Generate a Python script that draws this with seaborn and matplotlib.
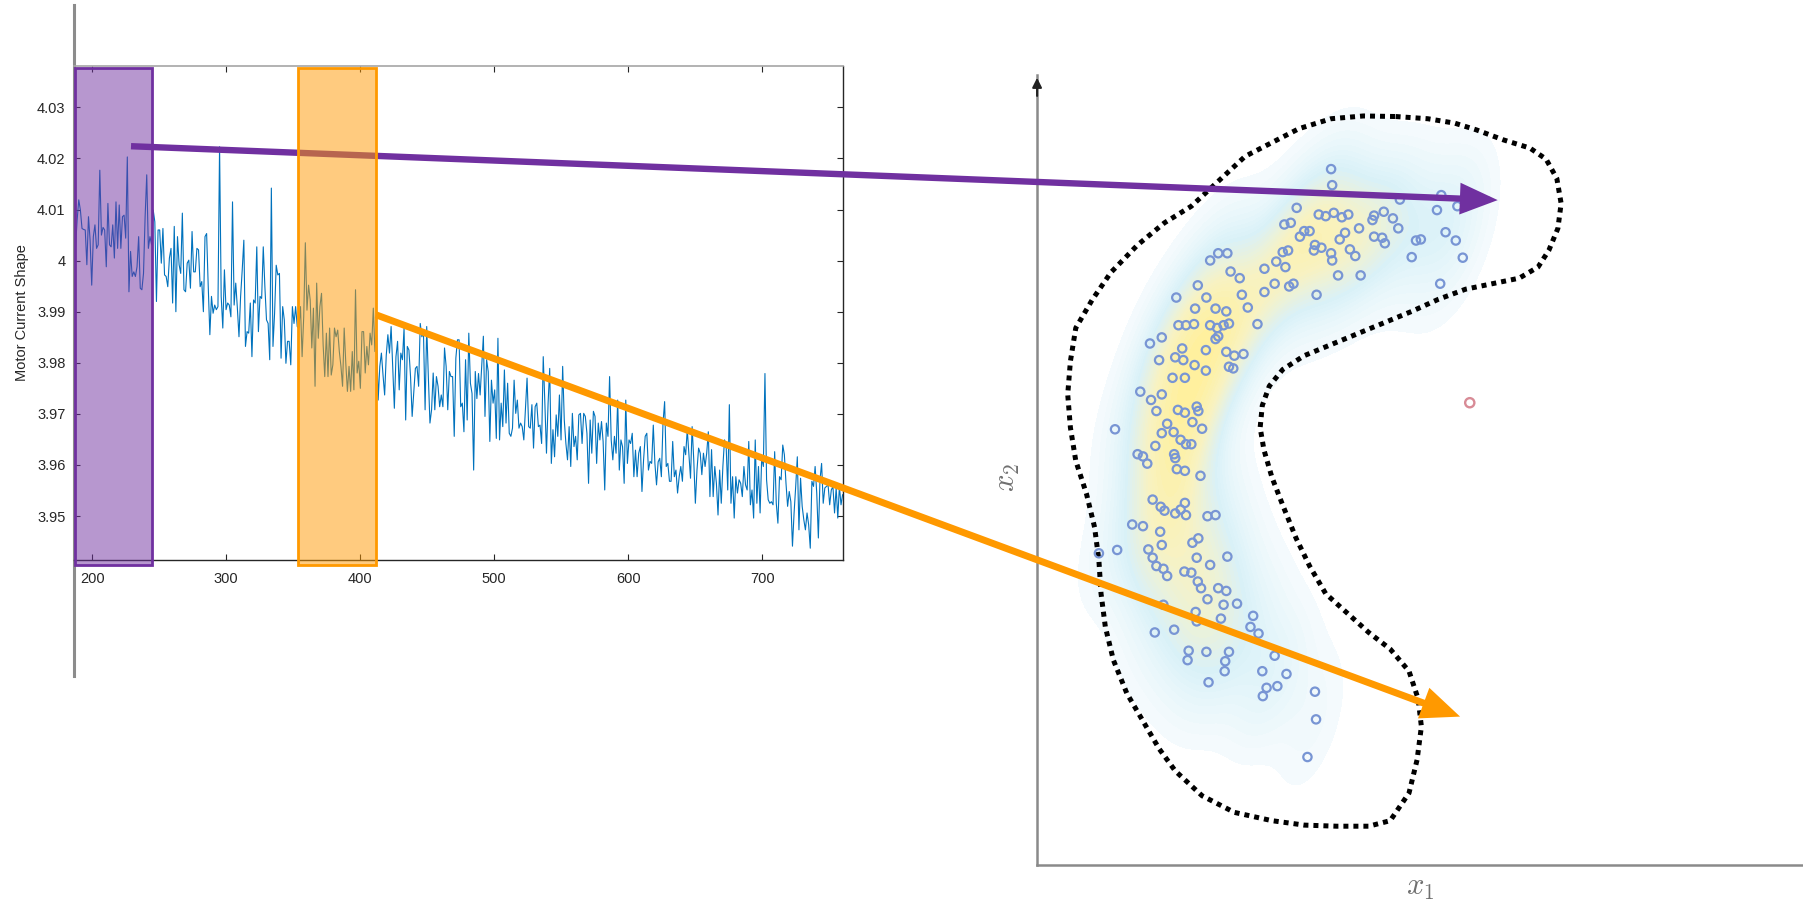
import numpy as np
import matplotlib
matplotlib.use('Agg')
import matplotlib.pyplot as plt
from matplotlib.colors import LinearSegmentedColormap, to_rgba
from matplotlib.patches import Rectangle, ConnectionPatch, ArrowStyle
import seaborn as sns

sns.set_theme(style='white')
plt.rcParams['font.family'] = ['Liberation Sans', 'DejaVu Sans']
plt.rcParams['mathtext.fontset'] = 'cm'

# ---- left panel: motor current signal ----
current = [
    4.0027, 4.0080, 4.0119, 4.0099, 4.0063, 4.0061, 4.0060, 3.9992, 4.0086, 4.0040,
    3.9952, 4.0047, 4.0070, 4.0024, 4.0031, 4.0177, 4.0050, 4.0065, 4.0060, 3.9988,
    4.0112, 4.0031, 4.0027, 4.0070, 4.0005, 4.0115, 4.0024, 4.0109, 4.0024, 4.0086,
    4.0089, 4.0044, 4.0203, 3.9939, 4.0018, 3.9969, 3.9978, 3.9969, 3.9988, 4.0047,
    3.9946, 3.9943, 3.9975, 4.0086, 4.0168, 4.0024, 4.0047, 4.0031, 4.0099, 4.0076,
    3.9920, 4.0060, 4.0060, 3.9995, 4.0063, 3.9972, 3.9969, 3.9949, 4.0005, 4.0024,
    3.9917, 4.0067, 3.9900, 4.0047, 3.9992, 3.9975, 4.0093, 3.9943, 3.9939, 3.9995,
    4.0001, 3.9946, 4.0057, 3.9978, 3.9978, 4.0024, 4.0021, 3.9949, 3.9959, 3.9900,
    4.0047, 4.0053, 3.9949, 3.9855, 3.9930, 3.9897, 3.9913, 3.9904, 3.9910, 4.0223,
    3.9930, 3.9868, 3.9982, 3.9904, 3.9917, 3.9913, 3.9890, 4.0115, 3.9913, 3.9956,
    3.9907, 3.9851, 3.9930, 3.9982, 4.0040, 3.9832, 3.9861, 3.9858, 3.9917, 3.9812,
    3.9923, 3.9917, 4.0027, 3.9861, 3.9930, 3.9926, 4.0027, 3.9949, 3.9884, 3.9877,
    3.9806, 4.0142, 3.9832, 3.9897, 3.9991, 3.9972, 3.9975, 3.9809, 3.9910, 3.9884,
    3.9799, 3.9842, 3.9842, 3.9796, 3.9910, 3.9877, 3.9910, 3.9871, 3.9868, 3.9910,
    3.9812, 3.9890, 4.0035, 3.9903, 3.9952, 3.9923, 3.9829, 3.9907, 3.9754, 3.9956,
    3.9848, 3.9910, 3.9936, 3.9835, 3.9773, 3.9858, 3.9773, 3.9868, 3.9776, 3.9796,
    3.9868, 3.9851, 3.9864, 3.9822, 3.9793, 3.9754, 3.9868, 3.9799, 3.9744, 3.9793,
    3.9744, 3.9822, 3.9747, 3.9943, 3.9780, 3.9803, 3.9750, 3.9861, 3.9861, 3.9780,
    3.9832, 3.9796, 3.9858, 3.9835, 3.9907, 3.9822, 3.9855, 3.9727, 3.9793, 3.9819,
    3.9776, 3.9737, 3.9815, 3.9855, 3.9819, 3.9871, 3.9793, 3.9711, 3.9812, 3.9842,
    3.9747, 3.9819, 3.9806, 3.9868, 3.9688, 3.9832, 3.9825, 3.9773, 3.9695, 3.9741,
    3.9789, 3.9793, 3.9754, 3.9877, 3.9851, 3.9858, 3.9708, 3.9871, 3.9773, 3.9682,
    3.9708, 3.9780, 3.9708, 3.9773, 3.9754, 3.9714, 3.9737, 3.9714, 3.9829, 3.9793,
    3.9708, 3.9783, 3.9773, 3.9773, 3.9656, 3.9809, 3.9845,
    3.9845, 3.9714, 3.9721, 3.9665, 3.9806, 3.9688, 3.9858, 3.9760, 3.9740, 3.9590,
    3.9783, 3.9730, 3.9779, 3.9737, 3.9793, 3.9852, 3.9695, 3.9806, 3.9783, 3.9646,
    3.9766, 3.9721, 3.9747, 3.9652, 3.9848, 3.9649, 3.9721, 3.9675, 3.9786, 3.9682,
    3.9760, 3.9662, 3.9656, 3.9672, 3.9766, 3.9701, 3.9727, 3.9672, 3.9682, 3.9675,
    3.9649, 3.9708, 3.9770, 3.9675, 3.9672, 3.9718, 3.9633, 3.9714, 3.9721, 3.9675,
    3.9678, 3.9642, 3.9812, 3.9721, 3.9623, 3.9721, 3.9789, 3.9603, 3.9669, 3.9616,
    3.9698, 3.9656, 3.9737, 3.9649, 3.9793, 3.9688, 3.9642, 3.9610, 3.9675, 3.9597,
    3.9701, 3.9636, 3.9656, 3.9610, 3.9698, 3.9701, 3.9642, 3.9701, 3.9695, 3.9662,
    3.9564, 3.9688, 3.9623, 3.9705, 3.9695, 3.9603, 3.9682, 3.9649, 3.9685, 3.9646,
    3.9551, 3.9682, 3.9656, 3.9773, 3.9649, 3.9610, 3.9656, 3.9623, 3.9727, 3.9590,
    3.9649, 3.9636, 3.9564, 3.9727, 3.9603, 3.9649, 3.9642, 3.9662, 3.9577, 3.9629,
    3.9577, 3.9623, 3.9636, 3.9548, 3.9610, 3.9656, 3.9662, 3.9590, 3.9607, 3.9603,
    3.9678, 3.9603, 3.9561, 3.9606, 3.9613, 3.9577, 3.9682, 3.9724, 3.9597, 3.9603,
    3.9568, 3.9568, 3.9646, 3.9577, 3.9590, 3.9545, 3.9577, 3.9597, 3.9568, 3.9636,
    3.9620, 3.9669, 3.9620, 3.9574, 3.9675, 3.9610, 3.9525, 3.9590, 3.9633, 3.9623,
    3.9581, 3.9623, 3.9597, 3.9623, 3.9665, 3.9538, 3.9630, 3.9538, 3.9597, 3.9564,
    3.9502, 3.9590, 3.9525, 3.9597, 3.9649, 3.9639, 3.9551, 3.9718, 3.9525, 3.9577,
    3.9496, 3.9577, 3.9545, 3.9571, 3.9564, 3.9538, 3.9597, 3.9561, 3.9551, 3.9646,
    3.9522, 3.9551, 3.9496, 3.9649, 3.9525, 3.9597, 3.9506, 3.9616, 3.9597, 3.9779,
    3.9571, 3.9532, 3.9525, 3.9528, 3.9522, 3.9626, 3.9525, 3.9486, 3.9577, 3.9571,
    3.9639, 3.9620, 3.9564, 3.9519, 3.9548, 3.9528, 3.9441, 3.9506, 3.9558, 3.9616,
    3.9473, 3.9574, 3.9519, 3.9493, 3.9473, 3.9506, 3.9483, 3.9437, 3.9568, 3.9558,
    3.9597, 3.9545, 3.9457, 3.9571, 3.9603, 3.9525, 3.9555, 3.9558, 3.9561, 3.9522,
    3.9551, 3.9558, 3.9506, 3.9555, 3.9496, 3.9558, 3.9522, 3.9542,
]
sample_first, sample_last = 187.5, 760
x_ticks = [200, 300, 400, 500, 600, 700]
y_ticks = [3.95, 3.96, 3.97, 3.98, 3.99, 4.00, 4.01, 4.02, 4.03]
purple_window = (187, 244.5)
orange_window = (353.5, 411.7)

x1_pts = [
    690, 692, 626, 603, 615, 667, 680, 695, 710, 722, 767, 770, 788, 805, 818, 815, 887, 895, 925, 940,
    903, 922, 935, 893, 848, 857, 840, 632, 640, 650, 660, 658, 672, 690, 692, 706, 716, 725, 735, 742,
    745, 770, 785, 790, 703, 663, 600, 610, 605, 588, 566, 585, 566, 620, 612, 520, 524, 535, 503, 480,
    497, 465, 442, 458, 402, 437, 475, 495, 553, 406, 420, 435, 465, 478, 490, 480, 475, 500, 457, 495,
    510, 527, 500, 508, 457, 413, 400, 415, 436, 395, 418, 370, 353, 375,
    335, 355, 375, 365, 405, 418, 440, 443, 432, 450, 385, 375, 397, 410, 420, 430, 363, 330, 340, 348,
    398, 400, 403, 418, 447, 288,
    358, 373, 380, 400, 410, 418, 420, 460, 475, 320, 340, 372, 375, 350, 358, 365, 378, 385, 432, 443,
    440, 417, 430, 442, 448, 465, 497, 292, 258,
    460, 480, 495, 490, 515, 485, 545, 540, 555, 438, 440, 378, 398, 362, 425, 423, 458, 500, 493, 492,
    585, 562, 607, 590, 570, 563, 462, 660, 662, 646,
]
x2_pts = [
    233, 262, 303, 333, 330, 315, 318, 312, 320, 315, 325, 317, 310, 322, 288, 340, 307, 280, 300, 300,
    347, 362, 393, 440, 362, 360, 392, 355, 345, 345, 370, 380, 375, 385, 398, 360, 348, 378, 390, 340,
    425, 355, 357, 367, 425, 460, 383, 380, 410, 400, 413, 440, 455, 440, 445, 430, 460, 483, 418, 385,
    385, 398, 443, 465, 465, 485, 485, 490, 513, 515, 515, 513, 515, 520, 515, 535, 540, 512, 560, 563,
    570, 567, 590, 593, 597, 557, 573, 578, 587, 610, 610, 578, 548, 537,
    635, 650, 640, 670, 668, 673, 662, 670, 690, 702, 693, 710, 708, 722, 730, 730, 733, 748, 752, 765,
    748, 755, 775, 778, 787, 703,
    830, 843, 850, 855, 848, 836, 858, 860, 858, 875, 878, 888, 912, 920, 935, 950, 955, 968, 908, 900,
    935, 960, 962, 978, 990, 948, 933, 921, 927,
    1010, 990, 995, 1020, 1018, 1045, 1040, 1060, 1072, 1033, 1050, 1020, 1065, 1070, 1103, 1120, 1105, 1105, 1122, 1140,
    1112, 1140, 1145, 1167, 1170, 1185, 1160, 1177, 1227, 1295,
]
outlier_x1, outlier_x2 = 948, 655

# dotted decision boundary (same units)
boundary_x1 = [
    810, 870, 920, 960, 1010, 1060, 1090, 1110, 1118, 1112, 1095, 1075, 1040, 990, 940, 890, 840,
    790, 740, 690, 640, 600, 575, 562, 558, 565, 580, 600, 625, 650, 680, 720, 760, 800, 835, 852,
    858, 850, 835, 800, 760, 700, 640, 580, 510, 450, 400, 370, 340, 310, 285, 270, 262, 258, 250,
    235, 215, 205, 200, 205, 215, 245, 280, 330, 380, 430, 480, 530, 580, 630, 690, 750, 810,
]
boundary_x2 = [
    138, 142, 150, 162, 180, 195, 215, 250, 295, 340, 380, 410, 430, 440, 450, 468, 490,
    510, 530, 550, 570, 595, 625, 660, 700, 740, 790, 840, 900, 950, 1000, 1035, 1070, 1100, 1140, 1190,
    1240, 1300, 1360, 1410, 1420, 1420, 1418, 1410, 1395, 1365, 1320, 1280, 1230, 1180, 1120, 1060, 1000, 940, 880,
    820, 760, 700, 640, 580, 520, 470, 420, 370, 330, 300, 255, 210, 185, 160, 142, 137, 138,
]

# arrow anchors: (left panel data) -> (right panel data)
purple_src, purple_dst = (228.9, 4.0224), (1000, 289)
orange_src, orange_dst = (411.7, 3.9894), (930, 1222)

fig = plt.figure(figsize=(18.03, 9.08), dpi=100)
fig.patch.set_facecolor('white')
ax1 = fig.add_axes([0.0410, 0.3833, 0.4265, 0.5440])
ax2 = fig.add_axes([0.5752, 0.0474, 0.4248, 0.8700])

# left panel
sample = np.linspace(sample_first, sample_last, len(current))
sns.lineplot(x=sample, y=current, ax=ax1, color='#0072BD', lw=0.8, estimator=None, zorder=2)
ax1.set_xlim(186.3, 760.2)
ax1.set_ylim(3.9414, 4.0381)
ax1.set_xticks(x_ticks)
ax1.set_xticklabels([str(t) for t in x_ticks])
ax1.set_yticks(y_ticks)
ax1.set_yticklabels([f'{t:g}' for t in y_ticks])
ax1.tick_params(direction='in', length=4, width=0.8, top=True, right=True, bottom=True, left=True,
                labelsize=10.5, color='#262626', labelcolor='#262626', pad=6)
ax1.tick_params(axis='x', pad=9)
ax1.set_ylabel('Motor Current Shape', fontsize=10.5, color='#262626', labelpad=6)
ax1.set_xlabel('')
ax1.spines['left'].set_color('#8c8c8c')
ax1.spines['left'].set_linewidth(2.2)
ax1.spines['left'].set_bounds(3.9186, 4.0500)
ax1.spines['top'].set_color('#a6a6a6')
ax1.spines['top'].set_linewidth(1.2)
for side in ['right', 'bottom']:
    ax1.spines[side].set_color('#262626')
    ax1.spines[side].set_linewidth(1.0)

band = ax1.get_xaxis_transform()
ax1.add_patch(Rectangle((purple_window[0], -0.01), purple_window[1] - purple_window[0], 1.006,
                        transform=band, facecolor=to_rgba('#7030a0', 0.5), edgecolor='#7030a0',
                        lw=2, clip_on=False, zorder=3))

# right panel
glow_cmap = LinearSegmentedColormap.from_list('glow', ['#f6fbfd', '#d9f1f8', '#f8f2c2', '#fff09c'])
sns.kdeplot(x=x1_pts, y=x2_pts, ax=ax2, fill=True, cmap=glow_cmap, levels=30, thresh=0.04,
            bw_adjust=0.75, zorder=1)
sns.lineplot(x=boundary_x1, y=boundary_x2, ax=ax2, sort=False, estimator=None, color='black',
             lw=3.6, linestyle=(0, (1, 1)), zorder=2)
sns.scatterplot(x=x1_pts, y=x2_pts, ax=ax2, marker='o', s=36, facecolor='none',
                edgecolor='#7895d4', linewidth=1.6, zorder=3)
sns.scatterplot(x=[outlier_x1], y=[outlier_x2], ax=ax2, marker='o', s=44, facecolor='none',
                edgecolor='#d88b96', linewidth=1.7, zorder=3)
ax2.set_xlim(143, 1568)
ax2.set_ylim(1490, 63)
ax2.set_xticks([])
ax2.set_yticks([])
for side in ['top', 'right']:
    ax2.spines[side].set_visible(False)
for side in ['left', 'bottom']:
    ax2.spines[side].set_color('#8a8a8a')
    ax2.spines[side].set_linewidth(1.8)
ax2.set_xlabel('$x_1$', fontsize=22, color='#707070', labelpad=5)
ax2.set_ylabel('$x_2$', fontsize=22, color='#707070')
ax2.yaxis.set_label_coords(-0.02, 0.49)
ax2.annotate('', xy=(0, 1.0), xytext=(0, 0.97), xycoords='axes fraction',
             arrowprops=dict(arrowstyle='-|>', color='#222222', lw=1.5, mutation_scale=14))

# connecting arrows and the orange window drawn on top
fig.add_artist(ConnectionPatch(xyA=purple_src, coordsA=ax1.transData, xyB=purple_dst, coordsB=ax2.transData,
                               arrowstyle=ArrowStyle('-|>', head_length=1.0, head_width=0.42),
                               mutation_scale=19, color='#7030a0', lw=4.6, shrinkA=0, shrinkB=0,
                               capstyle='butt', joinstyle='miter', zorder=5))
fig.add_artist(Rectangle((orange_window[0], -0.01), orange_window[1] - orange_window[0], 1.006,
                         transform=band, facecolor=to_rgba('#ff9900', 0.5), edgecolor='#ff9900',
                         lw=2, zorder=6))
fig.add_artist(ConnectionPatch(xyA=orange_src, coordsA=ax1.transData, xyB=orange_dst, coordsB=ax2.transData,
                               arrowstyle=ArrowStyle('-|>', head_length=1.0, head_width=0.42),
                               mutation_scale=19, color='#ff9900', lw=5.0, shrinkA=0, shrinkB=0,
                               capstyle='butt', joinstyle='miter', zorder=7))

fig.savefig('out.png', dpi=100, facecolor='white')
